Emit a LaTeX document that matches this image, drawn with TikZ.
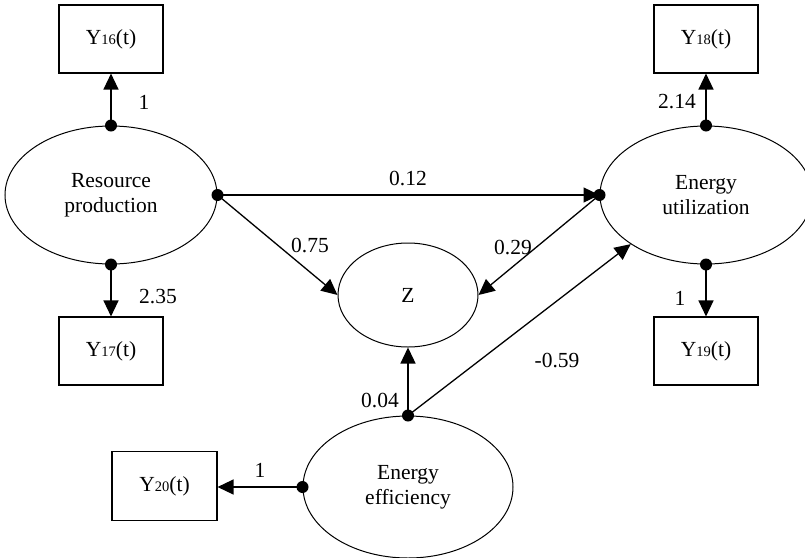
\documentclass[tikz,border=0pt]{standalone}
\usepackage{fontspec}
\setmainfont{Liberation Serif}
\usetikzlibrary{arrows.meta,shapes.geometric}
\newcommand{\bigtxt}{\fontsize{21.5}{25}\selectfont}
\newcommand{\subtxt}{\fontsize{14.5}{16}\selectfont}
\newcommand{\yv}[1]{Y{\subtxt #1}(t)}
\begin{document}
\begin{tikzpicture}[x=1pt,y=-1pt,
  every node/.append style={font=\bigtxt},
  obs/.style={draw,line width=1.1pt,rectangle,minimum width=104pt,minimum height=68pt,inner sep=0pt},
  lat/.style={draw,line width=1pt,ellipse,minimum width=212pt,minimum height=138pt,inner sep=0pt,align=center},
  arr/.style={line width=1.3pt,-{Triangle[length=16pt,width=15pt]}},
  lbl/.style={inner sep=0pt},
  dotc/.style={fill=black}]
\useasboundingbox (0,0) rectangle (805,557);
% observed boxes
\node[obs] (Y16) at (111,39) {\yv{16}};
\node[obs] (Y17) at (111,351) {\yv{17}};
\node[obs] (Y18) at (706,39) {\yv{18}};
\node[obs] (Y19) at (706,351) {\yv{19}};
\node[obs,minimum width=105pt,minimum height=69pt] (Y20) at (164.5,486) {\yv{20}};
% latent ellipses
\node[lat] (RP) at (111,195) {\bigtxt Resource\\\bigtxt production};
\node[lat] (EU) at (706,195) {\bigtxt Energy\\\bigtxt utilization};
\node[lat,minimum width=210pt,minimum height=142pt] (EE) at (408,487) {\bigtxt Energy\\\bigtxt efficiency};
\node[draw,line width=1pt,ellipse,minimum width=140pt,minimum height=104pt,inner sep=0pt] (Z) at (408,295) {\bigtxt Z};
% connectors
\draw[arr] (RP.north) -- (Y16.south);
\draw[arr] (RP.south) -- (Y17.north);
\draw[arr] (RP.east) -- (EU.west);
\draw[arr] (RP.east) -- (Z.west);
\draw[arr] (EU.west) -- (Z.east);
\draw[arr] (EU.north) -- (Y18.south);
\draw[arr] (EU.south) -- (Y19.north);
\draw[arr] (EE.north) -- (Z.south);
\draw[arr] (EE.north) -- (EU.south west);
\draw[arr] (EE.west) -- (EE.west -| Y20.east);
% dots
\foreach \p in {RP.north,RP.south,RP.east,EU.west,EU.north,EU.south,EE.north,EE.west}
  \fill[dotc] (\p) circle (6pt);
% labels
\node[lbl] (l1) at (144,102) {\bigtxt 1};
\node[lbl] (l2) at (158,297) {\bigtxt 2.35};
\node[lbl] (l3) at (677,102) {\bigtxt 2.14};
\node[lbl] (l4) at (680,298) {\bigtxt 1};
\node[lbl] (l5) at (408,178) {\bigtxt 0.12};
\node[lbl] (l6) at (310,245) {\bigtxt 0.75};
\node[lbl] (l7) at (513,247) {\bigtxt 0.29};
\node[lbl] (l8) at (557,360) {\bigtxt -0.59};
\node[lbl] (l9) at (380,400) {\bigtxt 0.04};
\node[lbl] (l10) at (260,470) {\bigtxt 1};
\end{tikzpicture}
\end{document}
